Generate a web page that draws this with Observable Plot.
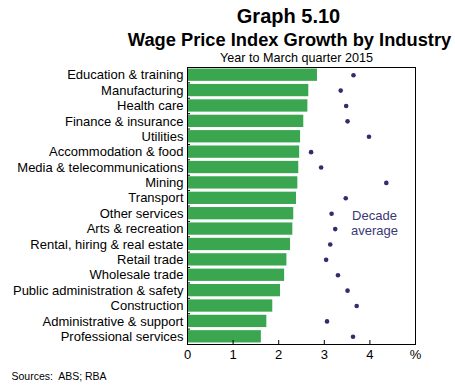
<!DOCTYPE html>
<html>
<head>
<meta charset="utf-8">
<script src="https://cdn.jsdelivr.net/npm/d3@7"></script>
<script src="https://cdn.jsdelivr.net/npm/@observablehq/plot@0.6"></script>
<style>
  body { margin: 0; background: #fff; }
  svg { font-family: "Liberation Sans", Arial, sans-serif; }
</style>
</head>
<body>
<div id="chart"></div>
<script>
const categories = [
  "Education & training", "Manufacturing", "Health care", "Finance & insurance",
  "Utilities", "Accommodation & food", "Media & telecommunications", "Mining",
  "Transport", "Other services", "Arts & recreation", "Rental, hiring & real estate",
  "Retail trade", "Wholesale trade", "Public administration & safety", "Construction",
  "Administrative & support", "Professional services"
];
const growth2015 = [2.85, 2.66, 2.64, 2.55, 2.48, 2.46, 2.44, 2.42, 2.39, 2.33, 2.31, 2.26, 2.18, 2.13, 2.04, 1.87, 1.74, 1.62];
const decadeAverage = [3.64, 3.36, 3.48, 3.51, 3.98, 2.71, 2.93, 4.36, 3.47, 3.16, 3.24, 3.13, 3.04, 3.30, 3.51, 3.71, 3.06, 3.63];
const xTicks = [0, 1, 2, 3, 4, 5];
const xTickLabels = ["0", "1", "2", "3", "4", "%"];

const data = categories.map((c, i) => ({category: c, i, growth: growth2015[i], avg: decadeAverage[i]}));
const boundaries = d3.range(categories.length + 1).map(i => i - 0.5);

const green = "#3aa64f";
const navy = "#302d6c";

const chart = Plot.plot({
  width: 455,
  height: 389,
  marginTop: 67,
  marginBottom: 45,
  marginLeft: 187,
  marginRight: 40,
  style: {fontFamily: "Liberation Sans, Arial, sans-serif", background: "#fff"},
  x: {domain: [0, 5]},
  y: {domain: [-0.5, categories.length - 0.5], reverse: true},
  marks: [
    Plot.rectX(data, {x1: 0, x2: "growth", y1: d => d.i - 0.4, y2: d => d.i + 0.4, fill: green}),
    Plot.dot(data, {x: "avg", y: "i", r: 2.3, fill: navy}),
    Plot.frame({stroke: "#000", strokeWidth: 1}),
    Plot.axisY({ticks: d3.range(categories.length), tickFormat: i => categories[i], tickSize: 0, tickPadding: 4, fontSize: 13, fill: "#000", label: null}),
    Plot.axisY({ticks: boundaries, tickFormat: () => "", tickSize: -3, label: null, stroke: "#000"}),
    Plot.axisX({ticks: xTicks, tickFormat: (d, k) => xTickLabels[k], tickSize: 0, tickPadding: 5, fontSize: 13, fill: "#000", label: null}),
    Plot.axisX({ticks: xTicks, tickFormat: () => "", tickSize: -4, label: null, stroke: "#000"}),
    Plot.text(["Decade\naverage"], {x: 4.1, y: 9.6, fontSize: 13, fill: "#3b3877", lineHeight: 1.15, textAnchor: "middle"}),
    Plot.text(["Graph 5.10"], {frameAnchor: "top", dx: -13, dy: -45, lineAnchor: "bottom", fontSize: 20, fontWeight: "bold", fill: "#000"}),
    Plot.text(["Wage Price Index Growth by Industry"], {frameAnchor: "top", dx: -12, dy: -21.5, lineAnchor: "bottom", fontSize: 18.3, fontWeight: "bold", fill: "#000"}),
    Plot.text(["Year to March quarter 2015"], {frameAnchor: "top", dx: -5, dy: -6, lineAnchor: "bottom", fontSize: 12.6, fill: "#000"}),
    Plot.text(["Sources:  ABS; RBA"], {frameAnchor: "bottom-left", dx: -176, dy: 35, lineAnchor: "bottom", textAnchor: "start", fontSize: 10.5, fill: "#000"})
  ]
});
document.getElementById("chart").appendChild(chart);
</script>
</body>
</html>
